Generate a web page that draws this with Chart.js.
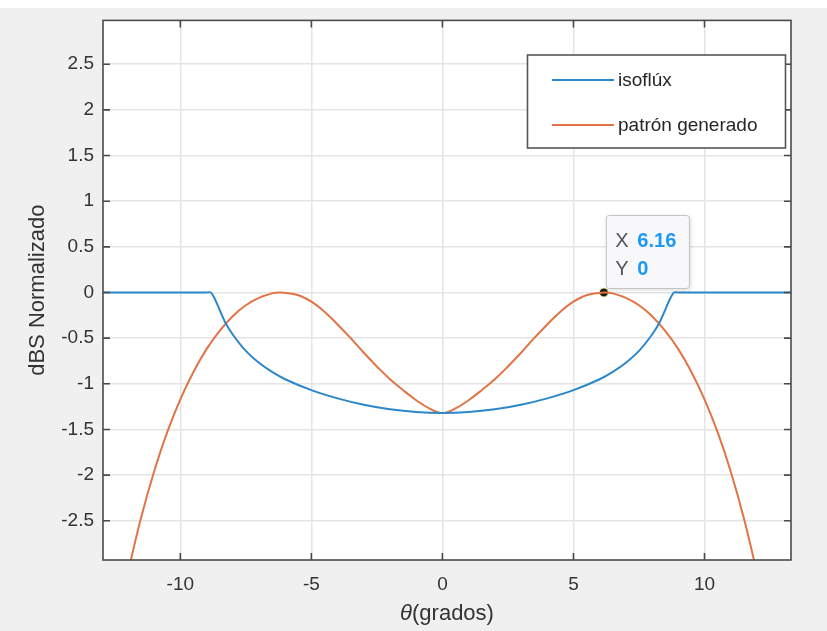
<!DOCTYPE html>
<html lang="es">
<head>
<meta charset="UTF-8">
<title>Patrón isoflux</title>
<script src="https://cdn.jsdelivr.net/npm/chart.js"></script>
<style>
  html, body { margin: 0; padding: 0; background: #fff; }
  #wrap { width: 827px; height: 631px; }
</style>
</head>
<body>
<div id="wrap"><canvas id="patron" width="827" height="631"></canvas></div>
<script>
// curva isoflux: ángulo (grados) -> nivel normalizado (dB)
const thetaIso = [-13.3, -12, -11, -10, -9.5, -9.0, -8.84, -8.7, -8.5, -8.3, -8.0, -7.5, -7.0, -6.5, -6.0, -5.0, -4.0, -3.0, -2.0, -1.0, 0,
                  1.0, 2.0, 3.0, 4.0, 5.0, 6.0, 6.5, 7.0, 7.5, 8.0, 8.3, 8.5, 8.7, 8.84, 9.0, 9.5, 10, 11, 12, 13.3];
const isoflux = [0, 0, 0, 0, 0, 0, 0, -0.06, -0.19, -0.32, -0.46, -0.64, -0.77, -0.87, -0.95, -1.07, -1.16, -1.23, -1.28, -1.31, -1.32,
                 -1.31, -1.28, -1.23, -1.16, -1.07, -0.95, -0.87, -0.77, -0.64, -0.46, -0.32, -0.19, -0.06, 0, 0, 0, 0, 0, 0, 0];

// patrón generado por el arreglo
const thetaPatron = [-12.3, -12.0, -11.5, -11.0, -10.5, -10.0, -9.5, -9.0, -8.5, -8.0, -7.5, -7.0, -6.5, -6.16,
                     -5.5, -5.0, -4.5, -4.0, -3.5, -3.0, -2.5, -2.0, -1.5, -1.0, -0.5, 0,
                     0.5, 1.0, 1.5, 2.0, 2.5, 3.0, 3.5, 4.0, 4.5, 5.0, 5.5,
                     6.16, 6.5, 7.0, 7.5, 8.0, 8.5, 9.0, 9.5, 10.0, 10.5, 11.0, 11.5, 12.0, 12.3];
const patron = [-3.45, -3.07, -2.47, -1.96, -1.53, -1.17, -0.87, -0.62, -0.42, -0.26, -0.14, -0.06, -0.01, 0,
                -0.03, -0.1, -0.21, -0.35, -0.5, -0.66, -0.81, -0.95, -1.07, -1.18, -1.27, -1.32,
                -1.27, -1.18, -1.07, -0.95, -0.81, -0.66, -0.5, -0.35, -0.21, -0.1, -0.03,
                0, -0.01, -0.06, -0.14, -0.26, -0.42, -0.62, -0.87, -1.17, -1.53, -1.96, -2.47, -3.07, -3.45];

const xTicks = [-10, -5, 0, 5, 10];
const yTicks = [-2.5, -2, -1.5, -1, -0.5, 0, 0.5, 1, 1.5, 2, 2.5];

// punto marcado con el datatip
const marcaX = 6.16;
const marcaY = 0;

const FONT = '"Liberation Sans", Arial, Helvetica, sans-serif';
const AZUL = '#2c87c9';
const NARANJA = '#e17446';

function toPoints(xs, ys) {
  return xs.map((x, i) => ({ x: x, y: ys[i] }));
}

const marco = {
  id: 'marco',
  beforeDraw(chart) {
    const ctx = chart.ctx;
    const a = chart.chartArea;
    ctx.save();
    ctx.fillStyle = '#ffffff';
    ctx.fillRect(0, 0, chart.width, chart.height);
    ctx.fillStyle = '#f0f0f0';
    ctx.fillRect(0, 8, chart.width, chart.height - 8);
    ctx.fillStyle = '#ffffff';
    ctx.fillRect(a.left, a.top, a.right - a.left, a.bottom - a.top);
    ctx.restore();
  },
  afterDatasetsDraw(chart) {
    const ctx = chart.ctx;
    const a = chart.chartArea;
    const sx = chart.scales.x;
    const sy = chart.scales.y;
    ctx.save();
    // caja de los ejes
    ctx.strokeStyle = '#4a4a4a';
    ctx.lineWidth = 1.6;
    ctx.strokeRect(a.left, a.top, a.right - a.left, a.bottom - a.top);
    // marcas hacia adentro
    const tl = 7;
    ctx.beginPath();
    xTicks.forEach(v => {
      const px = sx.getPixelForValue(v);
      ctx.moveTo(px, a.bottom); ctx.lineTo(px, a.bottom - tl);
      ctx.moveTo(px, a.top); ctx.lineTo(px, a.top + tl);
    });
    yTicks.forEach(v => {
      const py = sy.getPixelForValue(v);
      ctx.moveTo(a.left, py); ctx.lineTo(a.left + tl, py);
      ctx.moveTo(a.right, py); ctx.lineTo(a.right - tl, py);
    });
    ctx.stroke();
    ctx.restore();
  },
  afterDraw(chart) {
    const ctx = chart.ctx;
    const a = chart.chartArea;
    const sx = chart.scales.x;
    const sy = chart.scales.y;
    ctx.save();

    // títulos de los ejes
    ctx.fillStyle = '#333333';
    ctx.textBaseline = 'middle';
    const cx = (a.left + a.right) / 2;
    ctx.font = 'italic 22px ' + FONT;
    const wTheta = ctx.measureText('θ').width;
    ctx.font = '22px ' + FONT;
    const wRest = ctx.measureText('(grados)').width;
    const x0 = cx - (wTheta + wRest) / 2;
    ctx.textAlign = 'left';
    ctx.font = 'italic 22px ' + FONT;
    ctx.fillText('θ', x0, 614);
    ctx.font = '22px ' + FONT;
    ctx.fillText('(grados)', x0 + wTheta, 614);

    ctx.translate(38, (a.top + a.bottom) / 2);
    ctx.rotate(-Math.PI / 2);
    ctx.textAlign = 'center';
    ctx.fillText('dBS Normalizado', 0, 0);
    ctx.setTransform(1, 0, 0, 1, 0, 0);

    // leyenda
    const lx = 527.5, ly = 55, lw = 258, lh = 93;
    ctx.fillStyle = '#ffffff';
    ctx.fillRect(lx, ly, lw, lh);
    ctx.strokeStyle = '#555555';
    ctx.lineWidth = 1.6;
    ctx.strokeRect(lx, ly, lw, lh);
    const filas = [
      { texto: 'isoflúx', color: AZUL, y: 80 },
      { texto: 'patrón generado', color: NARANJA, y: 125 }
    ];
    ctx.font = '19px ' + FONT;
    ctx.textAlign = 'left';
    filas.forEach(f => {
      ctx.strokeStyle = f.color;
      ctx.lineWidth = 2;
      ctx.beginPath();
      ctx.moveTo(552, f.y);
      ctx.lineTo(614, f.y);
      ctx.stroke();
      ctx.fillStyle = '#262626';
      ctx.fillText(f.texto, 618, f.y + 1);
    });

    // datatip en el máximo derecho
    const px = sx.getPixelForValue(marcaX);
    const py = sy.getPixelForValue(marcaY);
    const bx = px + 2.5, bw = 83, bh = 73, by = py - 4 - bh;
    ctx.shadowColor = 'rgba(0,0,0,0.18)';
    ctx.shadowBlur = 4;
    ctx.shadowOffsetX = 1;
    ctx.shadowOffsetY = 1;
    ctx.fillStyle = '#f8f8fb';
    ctx.beginPath();
    ctx.roundRect(bx, by, bw, bh, 3);
    ctx.fill();
    ctx.shadowColor = 'transparent';
    ctx.strokeStyle = '#c4c4c4';
    ctx.lineWidth = 1;
    ctx.stroke();
    ctx.font = '20px ' + FONT;
    ctx.fillStyle = '#555555';
    ctx.fillText('X', bx + 9, by + 26);
    ctx.fillText('Y', bx + 9, by + 54);
    ctx.font = 'bold 20px ' + FONT;
    ctx.fillStyle = '#1c98f5';
    ctx.fillText(String(marcaX), bx + 31, by + 26);
    ctx.fillText(String(marcaY), bx + 31, by + 54);

    ctx.restore();
  }
};

new Chart(document.getElementById('patron'), {
  type: 'line',
  data: {
    datasets: [
      {
        label: 'isoflúx',
        data: toPoints(thetaIso, isoflux),
        borderColor: AZUL,
        borderWidth: 2,
        tension: 0.25,
        pointRadius: 0
      },
      {
        label: 'patrón generado',
        data: toPoints(thetaPatron, patron),
        borderColor: NARANJA,
        borderWidth: 2,
        tension: 0.4,
        pointRadius: 0
      },
      {
        label: 'marca',
        data: [{ x: marcaX, y: marcaY }],
        showLine: false,
        pointRadius: 4.5,
        pointBackgroundColor: '#1b1b1b',
        pointBorderColor: '#f5f5a0',
        pointBorderWidth: 1
      }
    ]
  },
  options: {
    responsive: false,
    animation: false,
    devicePixelRatio: 1,
    layout: { padding: { left: 0, top: 16, right: 36, bottom: 0 } },
    plugins: {
      legend: { display: false },
      tooltip: { enabled: false }
    },
    scales: {
      x: {
        type: 'linear',
        min: -12.95,
        max: 13.3,
        afterBuildTicks: s => { s.ticks = xTicks.map(v => ({ value: v })); },
        afterFit: s => { s.height = 71; },
        border: { display: false },
        grid: { color: '#e4e4e4', lineWidth: 1.5, drawTicks: false },
        ticks: {
          padding: 13,
          maxRotation: 0,
          color: '#333333',
          font: { family: FONT, size: 19 },
          callback: v => String(v)
        }
      },
      y: {
        type: 'linear',
        min: -2.93,
        max: 2.98,
        afterBuildTicks: s => { s.ticks = yTicks.map(v => ({ value: v })); },
        afterFit: s => { s.width = 103; },
        border: { display: false },
        grid: { color: '#e4e4e4', lineWidth: 1.5, drawTicks: false },
        ticks: {
          padding: 9,
          color: '#333333',
          font: { family: FONT, size: 19 },
          callback: v => String(v)
        }
      }
    }
  },
  plugins: [marco]
});
</script>
</body>
</html>
